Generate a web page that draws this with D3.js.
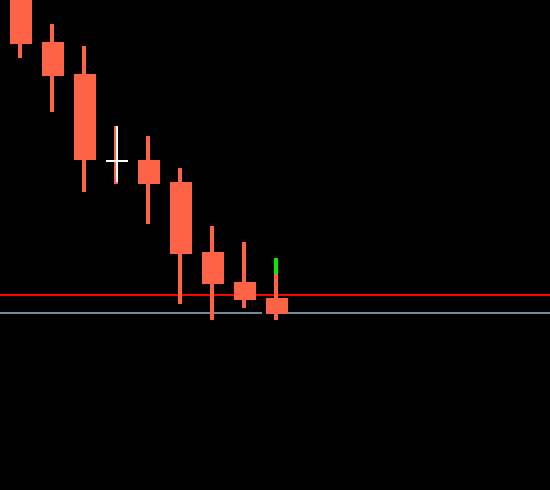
<!DOCTYPE html>
<html>
<head>
<meta charset="utf-8">
<script src="https://cdn.jsdelivr.net/npm/d3@7"></script>
<style>
html,body{margin:0;padding:0;background:#000;overflow:hidden;}
svg{display:block;}
</style>
</head>
<body>
<script>
// Candle data (arbitrary price units)
const bars   = [0, 1, 2, 3, 4, 5, 6, 7, 8];
const opens  = [252, 224, 208, 164.5, 165, 154, 119, 104, 96];
const highs  = [260, 233, 222, 182, 177, 161, 132, 124, 108];
const lows   = [216, 189, 149, 153, 133, 93, 85, 91, 85];
const closes = [223, 207, 165, 164.5, 153, 118, 103, 95, 88];
const greenTop = [116];      // live tick above last candle's high
const redLevel = [97.5];     // horizontal red level
const greyLevel = [88.5];    // current price line

const W = 550, H = 490;
const svg = d3.select("body").append("svg")
  .attr("width", W).attr("height", H)
  .attr("shape-rendering", "crispEdges");
svg.append("rect").attr("width", W).attr("height", H).attr("fill", "#000");

const y = d3.scaleLinear().domain([0, 245]).range([H, 0]);
const x = d3.scaleLinear().domain([0, 1]).range([21, 53]); // candle centers

const data = bars.map((b, i) => ({i: b, o: opens[i], h: highs[i], l: lows[i], c: closes[i]}));
const up = "#ff6347";

// red level line (behind candles)
svg.append("rect").attr("x", 0).attr("width", W)
  .attr("y", y(redLevel[0]) - 1).attr("height", 2).attr("fill", "#ff0000");

// grey price line, broken around last candle
const last = data[data.length - 1];
const lc = x(last.i);
svg.append("rect").attr("x", 0).attr("width", lc - 15)
  .attr("y", y(greyLevel[0]) - 1).attr("height", 2).attr("fill", "#778899");
svg.append("rect").attr("x", lc + 11).attr("width", W - (lc + 11))
  .attr("y", y(greyLevel[0]) - 1).attr("height", 2).attr("fill", "#778899");

// wicks
svg.selectAll("rect.wick").data(data).enter().append("rect")
  .attr("class", "wick")
  .attr("x", d => x(d.i) - 3).attr("width", 4)
  .attr("y", d => y(d.h)).attr("height", d => y(d.l) - y(d.h))
  .attr("fill", up);

// bodies
svg.selectAll("rect.body").data(data.filter(d => d.o !== d.c)).enter().append("rect")
  .attr("class", "body")
  .attr("x", d => x(d.i) - 11).attr("width", 22)
  .attr("y", d => y(Math.max(d.o, d.c)))
  .attr("height", d => Math.abs(y(d.o) - y(d.c)))
  .attr("fill", up);

// doji candles in white
const doji = data.filter(d => d.o === d.c);
svg.selectAll("rect.dojiV").data(doji).enter().append("rect")
  .attr("x", d => x(d.i) - 1).attr("width", 2)
  .attr("y", d => y(d.h)).attr("height", d => y(d.l) - y(d.h) - 2)
  .attr("fill", "#fff");
svg.selectAll("rect.dojiH").data(doji).enter().append("rect")
  .attr("x", d => x(d.i) - 11).attr("width", 22)
  .attr("y", d => y(d.c) - 1).attr("height", 2)
  .attr("fill", "#fff");

// green live tick
svg.append("rect").attr("x", lc - 3).attr("width", 4)
  .attr("y", y(greenTop[0])).attr("height", y(last.h) - y(greenTop[0]))
  .attr("fill", "#00ee00");
</script>
</body>
</html>
